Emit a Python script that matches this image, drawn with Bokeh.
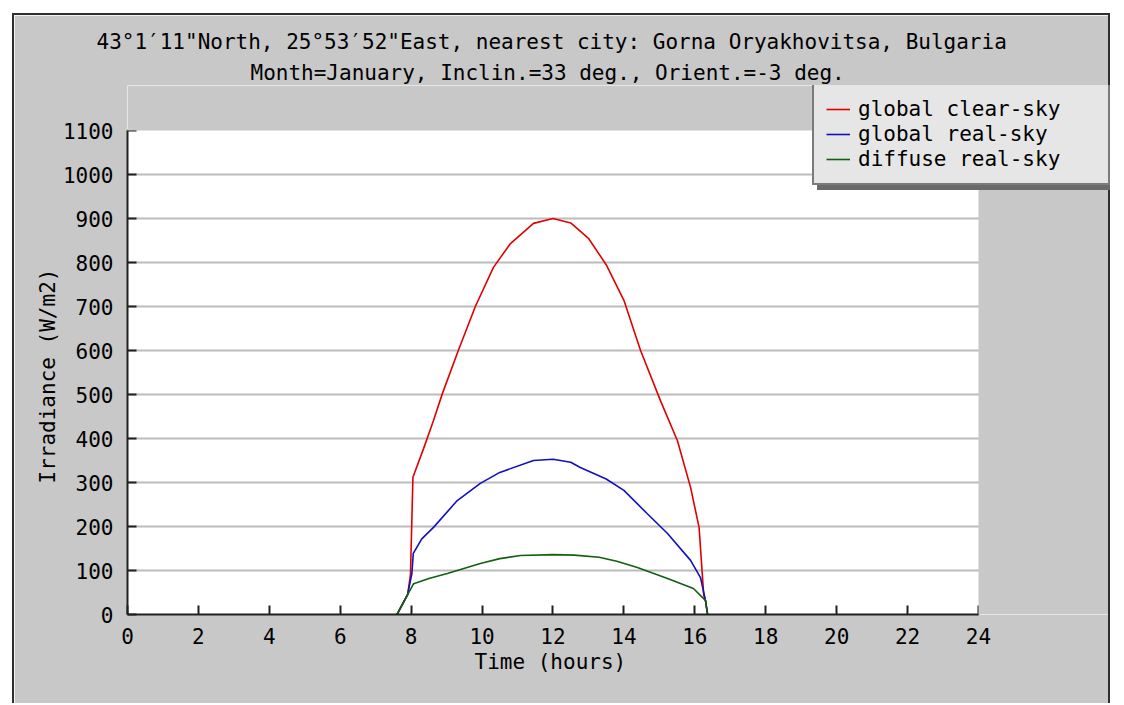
from bokeh.plotting import figure
from bokeh.models import (Range1d, SingleIntervalTicker, FixedTicker, Title, Legend,
                          LegendItem, BoxAnnotation)
from bokeh.embed import file_html
from bokeh.resources import INLINE

# ---- data ----
title_line1 = "43°1\u203211\"North, 25°53\u203252\"East, nearest city: Gorna Oryakhovitsa, Bulgaria"
title_line2 = "Month=January, Inclin.=33 deg., Orient.=-3 deg."
x_title = "Time (hours)"
y_title = "Irradiance (W/m2)"

hours_clear = [7.6, 7.9, 7.98, 8.05, 8.35, 8.63, 8.88, 9.33, 9.81, 10.32, 10.8, 11.45, 12.0,
               12.5, 13.0, 13.5, 14.0, 14.47, 15.03, 15.51, 15.88, 16.12, 16.25, 16.3, 16.36]
global_clear = [0, 45, 90, 312, 377, 441, 502, 600, 700, 789, 843, 889, 900,
                890, 855, 795, 714, 600, 486, 395, 289, 198, 45, 32, 0]

hours_real = [7.6, 7.9, 8.02, 8.06, 8.3, 8.63, 9.3, 9.95, 10.5, 11.45, 12.0, 12.5, 12.77,
              13.5, 14.0, 14.66, 15.23, 15.88, 16.16, 16.3, 16.36]
global_real = [0, 45, 93, 139, 172, 198, 259, 298, 323, 350, 353, 346, 334,
               308, 282, 229, 184, 123, 84, 32, 0]

hours_diffuse = [7.6, 7.9, 8.07, 8.5, 9.02, 9.95, 10.5, 11.08, 12.0, 12.6, 13.3, 13.8,
                 14.38, 15.23, 15.96, 16.3, 16.36]
diffuse_real = [0, 45, 70, 82, 93, 116, 127, 134, 136, 135, 130, 121,
                107, 82, 59, 32, 0]

series_names = ["global clear-sky", "global real-sky", "diffuse real-sky"]
series_colors = ["#e00000", "#1010c0", "#106010"]

X_MAX, Y_MAX = 24, 1100          # axis extent shown by the reference
X_VIEW, Y_VIEW = 27.723, 1202.3  # view extends into the grey margin (legend space)

FONT = "DejaVu Sans Mono"
FS = "21px"
PANEL = "#c8c8c8"

p = figure(width=1098, height=690, output_backend="svg", toolbar_location=None,
           x_range=Range1d(0, X_VIEW), y_range=Range1d(0, Y_VIEW),
           min_border_left=113, min_border_right=2, min_border_top=70, min_border_bottom=91,
           background_fill_color="white", border_fill_color=PANEL,
           outline_line_color=None, margin=(13, 0, 0, 12),
           styles={"border-left": "2px solid #303030", "border-top": "2px solid #303030",
                   "border-right": "2px solid #303030"})

def mk_title(text, standoff, offset):
    return Title(text=text, align="left", text_font=FONT, text_font_size=FS,
                 text_font_style="normal", text_color="black", standoff=standoff,
                 offset=offset)

# titles (line 2 closer to plot, added first); centred over the 0-24 h chart area
p.add_layout(mk_title(title_line2, 2, 123), "above")
p.add_layout(mk_title(title_line1, 7, -31), "above")

# axes
p.xaxis.ticker = SingleIntervalTicker(interval=2)
p.yaxis.ticker = SingleIntervalTicker(interval=100)
p.xaxis.bounds = (0, X_MAX)
p.yaxis.bounds = (0, Y_MAX)
for ax in (p.xaxis[0], p.yaxis[0]):
    ax.major_tick_in = 9
    ax.major_tick_out = 0
    ax.minor_tick_line_color = None
    ax.axis_line_width = 2
    ax.axis_line_color = "#202020"
    ax.major_tick_line_width = 2
    ax.major_tick_line_color = "#202020"
    ax.major_label_text_font = FONT
    ax.major_label_text_font_size = FS
    ax.major_label_text_color = "black"
p.xaxis.major_label_standoff = 9
p.yaxis.major_label_standoff = 10

p.add_layout(mk_title(x_title, 3, 347), "below")
p.add_layout(mk_title(y_title, 0, 131), "left")

p.xgrid.visible = False
p.ygrid.ticker = FixedTicker(ticks=[100, 200, 300, 400, 500, 600, 700, 800, 900, 1000])
p.ygrid.grid_line_color = "#bcbcbc"
p.ygrid.grid_line_width = 2

# lines
xs = [hours_clear, hours_real, hours_diffuse]
ys = [global_clear, global_real, diffuse_real]
renderers = []
for x, y, c in zip(xs, ys, series_colors):
    r = p.line(x, y, line_color=c, line_width=1.6)
    renderers.append(r)

# grey margins beyond the chart area (right of 24 h, above 1100)
p.add_layout(BoxAnnotation(left=X_MAX, fill_color=PANEL, fill_alpha=1, line_color=None))
p.add_layout(BoxAnnotation(bottom=Y_MAX, fill_color=PANEL, fill_alpha=1, line_color=None))

def make_legend(loc, bg, shadow=False):
    labels = [" "] * len(series_names) if shadow else series_names
    items = [LegendItem(label=n, renderers=[r]) for n, r in zip(labels, renderers)]
    lg = Legend(items=items, location=loc)
    lg.background_fill_color = bg
    lg.background_fill_alpha = 1
    lg.border_line_color = bg if shadow else "#101010"
    lg.border_line_width = 2
    lg.label_text_font = FONT
    lg.label_text_font_size = FS
    lg.label_text_color = bg if shadow else "black"
    lg.glyph_width = 24
    lg.glyph_height = 24
    lg.label_height = 24
    lg.label_width = 238
    lg.label_standoff = 8
    lg.spacing = 1
    lg.padding = 12
    lg.margin = 0
    return lg

shadow = make_legend((690, 424), "#6a6a6a", shadow=True)
legend = make_legend((685, 429), "#e6e6e6")
p.add_layout(shadow, "center")
p.add_layout(legend, "center")

open("out.html", "w").write(file_html(p, INLINE))
